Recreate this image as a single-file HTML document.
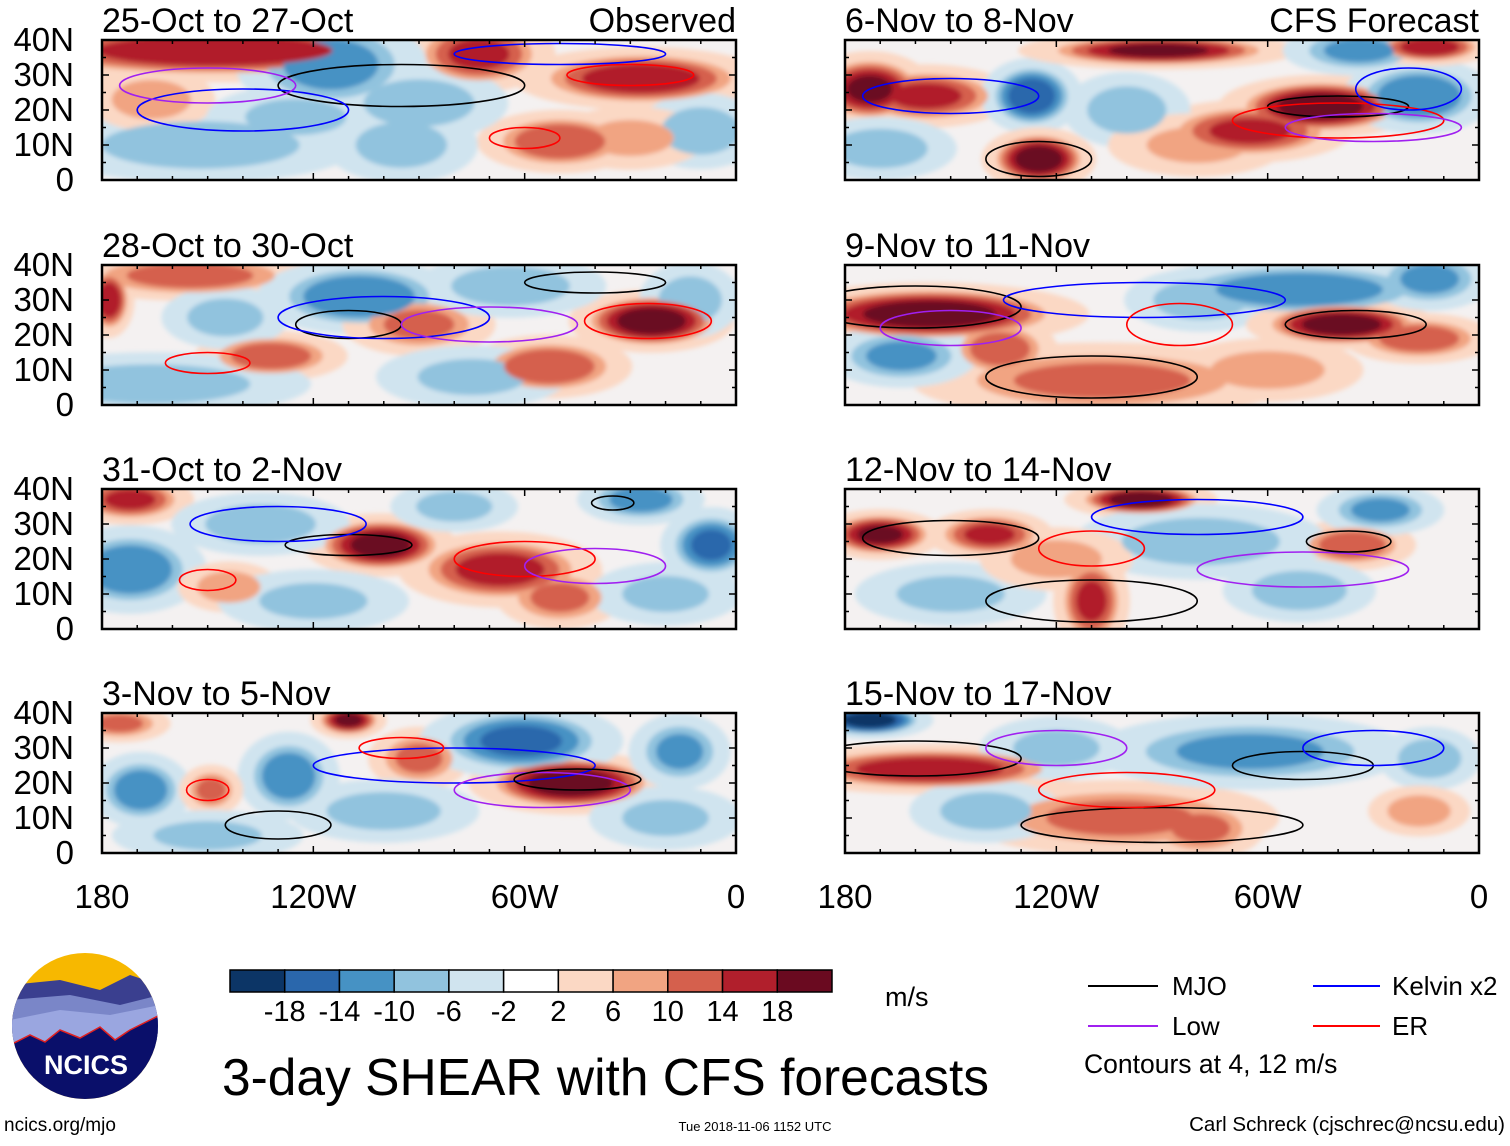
<!DOCTYPE html>
<html><head><meta charset="utf-8"><style>
html,body{margin:0;padding:0;background:#fff;}
body{width:1510px;height:1141px;overflow:hidden;font-family:"Liberation Sans",Arial,sans-serif;}
svg text{font-family:"Liberation Sans",Arial,sans-serif;}
</style></head><body>
<svg id="root" width="1510" height="1141" viewBox="0 0 1510 1141" xmlns="http://www.w3.org/2000/svg">
<defs>
<filter id="soft" x="-20%" y="-20%" width="140%" height="140%"><feGaussianBlur stdDeviation="2.5"/></filter>
<clipPath id="logoClip"><circle cx="85" cy="1026" r="73"/></clipPath>
</defs>
<g id="panels"></g>

<g id="cbar"></g>
<text x="885" y="1006" font-size="27">m/s</text>

<text x="222" y="1095" font-size="51.5">3-day SHEAR with CFS forecasts</text>

<g>
<line x1="1088" y1="986" x2="1158" y2="986" stroke="#000" stroke-width="2"/>
<text x="1172" y="995" font-size="26">MJO</text>
<line x1="1313" y1="986" x2="1380" y2="986" stroke="#0000ff" stroke-width="2"/>
<text x="1392" y="995" font-size="26">Kelvin x2</text>
<line x1="1088" y1="1026" x2="1158" y2="1026" stroke="#a020f0" stroke-width="2"/>
<text x="1172" y="1035" font-size="26">Low</text>
<line x1="1313" y1="1026" x2="1380" y2="1026" stroke="#ff0000" stroke-width="2"/>
<text x="1392" y="1035" font-size="26">ER</text>
<text x="1084" y="1073" font-size="26.5">Contours at 4, 12 m/s</text>
</g>

<g>
<g clip-path="url(#logoClip)">
<rect x="10" y="950" width="150" height="155" fill="#f7b800"/>
<polygon points="10,985 60,980 100,990 130,975 160,985 160,1040 10,1040" fill="#3a3f8f"/>
<polygon points="10,1000 70,995 120,1005 160,995 160,1040 10,1040" fill="#7a86c8"/>
<polygon points="10,1020 60,1010 110,1015 160,1005 160,1050 10,1050" fill="#9aa6e0"/>
<polygon points="10,1045 30,1035 45,1042 60,1030 80,1038 100,1027 115,1040 130,1030 160,1015 160,1105 10,1105" fill="#0a0f6a" stroke="#e02020" stroke-width="1.5"/>
</g>
<text x="86" y="1074" font-size="27" font-weight="bold" fill="#fff" text-anchor="middle">NCICS</text>
</g>

<text x="4" y="1131" font-size="19">ncics.org/mjo</text>
<text x="755" y="1131" font-size="13" text-anchor="middle">Tue 2018-11-06 1152 UTC</text>
<text x="1505" y="1131" font-size="20.5" text-anchor="end">Carl Schreck (cjschrec@ncsu.edu)</text>
</svg>
<script>
const cbLevels = [-18,-14,-10,-6,-2,2,6,10,14,18];
const cbColors = ["#0c3566","#2a67ac","#4692c4","#91c3de","#d0e4ef","#ffffff","#fbd8c4","#f1a482","#d5604d","#b11f2c","#6a0a20"];
const panelTitles = ["25-Oct to 27-Oct","28-Oct to 30-Oct","31-Oct to 2-Nov","3-Nov to 5-Nov","6-Nov to 8-Nov","9-Nov to 11-Nov","12-Nov to 14-Nov","15-Nov to 17-Nov"];
const latTicks = [40,30,20,10,0];
const latLabels = ["40N","30N","20N","10N","0"];
const lonTicks = [180,120,60,0];
const lonLabels = ["180","120W","60W","0"];
// shear anomaly blobs per panel: [lonW, lat, value m/s, rxDeg, ryDeg]
const blobs0 = [[148,37,15,38,5],[73,36,12,12,6],[27,29,14,20,5],[50,11,11,13,5],[115,33,-9,15,8],[90,22,-6,14,6],[152,10,-6,25,6],[166,23,6,10,5],[10,14,-6,10,6],[95,10,-5,12,6],[125,18,-4,14,5],[30,12,4,12,5]];
const blobs1 = [[178,30,14,4,6],[155,37,9,20,4],[107,31,-11,16,6],[132,14,10,12,4],[90,23,8,12,5],[24,24,18,13,5],[53,11,11,13,5],[64,34,-6,15,5],[166,6,-6,25,5],[13,30,-6,8,6],[145,25,-5,10,5],[75,8,-4,15,5]];
const blobs2 = [[172,37,12,10,4],[101,24,17,12,5],[67,17,13,16,6],[50,9,8,10,5],[172,17,-11,12,7],[27,37,-9,10,4],[7,24,-12,8,6],[135,30,-6,14,5],[144,12,6,8,4],[80,35,-5,10,4],[120,8,-4,15,5],[20,10,-4,12,5]];
const blobs3 = [[110,38,16,6,3],[90,27,8,8,5],[47,20,18,16,5],[127,22,-10,8,7],[169,18,-10,8,6],[61,32,-12,16,6],[16,29,-8,8,6],[149,18,8,5,4],[175,37,8,8,3],[100,12,-5,15,5],[150,5,-4,15,4],[20,10,-4,12,5]];
const blobs4 = [[173,26,16,10,6],[157,24,12,14,5],[127,24,-14,8,6],[91,37,16,22,3],[125,6,18,9,5],[45,21,18,16,5],[65,14,12,16,5],[17,24,-11,12,6],[34,37,-8,12,4],[170,9,-6,12,5],[14,38,14,10,3],[100,20,-6,10,6],[80,10,4,14,5]];
const blobs5 = [[156,26,18,25,5],[136,16,10,9,5],[79,30,-6,12,5],[51,33,-10,25,5],[39,23,18,15,4],[107,7,8,30,6],[17,19,10,12,4],[164,14,-8,12,5],[14,36,-8,10,5],[60,10,5,15,5]];
const blobs6 = [[170,27,16,10,4],[139,27,12,10,4],[96,37,18,12,3],[110,8,12,6,8],[36,24,10,10,4],[79,25,-6,20,6],[28,34,-8,10,4],[51,11,-6,12,5],[150,10,-4,15,5],[120,20,5,12,5]];
const blobs7 = [[173,38,-18,10,3],[156,24,14,25,4],[102,10,8,25,6],[65,29,-8,25,6],[79,7,8,10,5],[14,27,-6,8,5],[17,12,6,8,4],[140,12,-5,12,5],[120,30,-4,12,5]];
const panelBlobs = [blobs0,blobs1,blobs2,blobs3,blobs4,blobs5,blobs6,blobs7];
// contours per panel: [type, lonW, lat, rxDeg, ryDeg]
const cont0 = [["mjo",95,27,35,6],["kelvin",140,20,30,6],["low",150,27,25,5],["er",60,12,10,3],["er",30,30,18,3],["kelvin",50,36,30,3]];
const cont1 = [["mjo",110,23,15,4],["mjo",40,35,20,3],["kelvin",100,25,30,6],["er",25,24,18,5],["low",70,23,25,5],["er",150,12,12,3]];
const cont2 = [["mjo",110,24,18,3],["kelvin",130,30,25,5],["er",60,20,20,5],["low",40,18,20,5],["er",150,14,8,3],["mjo",35,36,6,2]];
const cont3 = [["mjo",130,8,15,4],["kelvin",80,25,40,5],["er",95,30,12,3],["low",55,18,25,5],["mjo",45,21,18,3],["er",150,18,6,3]];
const cont4 = [["mjo",40,21,20,3],["mjo",125,6,15,5],["kelvin",150,24,25,5],["er",40,17,30,5],["low",30,15,25,4],["kelvin",20,26,15,6]];
const cont5 = [["mjo",160,28,30,6],["mjo",110,8,30,6],["mjo",35,23,20,4],["kelvin",95,30,40,5],["er",85,23,15,6],["low",150,22,20,5]];
const cont6 = [["mjo",150,26,25,5],["mjo",110,8,30,6],["er",110,23,15,5],["low",50,17,30,5],["mjo",37,25,12,3],["kelvin",80,32,30,5]];
const cont7 = [["mjo",160,27,30,5],["mjo",90,8,40,5],["er",100,18,25,5],["low",120,30,20,5],["mjo",50,25,20,4],["kelvin",30,30,20,5]];
const panelConts = [cont0,cont1,cont2,cont3,cont4,cont5,cont6,cont7];

const NS="http://www.w3.org/2000/svg";
const PW=634, PH=140;
const colX=[102,845], rowY=[40,265,489,713];
const contColor={mjo:"#000",kelvin:"#0000ff",low:"#a020f0",er:"#ff0000"};
function mk(tag,attrs,parent){const e=document.createElementNS(NS,tag);for(const k in attrs)e.setAttribute(k,attrs[k]);parent.appendChild(e);return e;}
function colorFor(v){let i=0;while(i<cbLevels.length&&v>=cbLevels[i])i++;return cbColors[i];}

const panelsG=document.getElementById('panels');
const defs=document.querySelector('defs');
for(let p=0;p<8;p++){
  const x0=colX[p<4?0:1], y0=rowY[p%4];
  const xS=lon=>x0+(180-lon)/180*PW;
  const yS=lat=>y0+(40-lat)/40*PH;
  const sx=PW/180*1.45, sy=PH/40*1.45;
  const cp=mk('clipPath',{id:'pc'+p},defs);
  mk('rect',{x:x0,y:y0,width:PW,height:PH},cp);
  const g=mk('g',{'clip-path':'url(#pc'+p+')'},panelsG);
  
  
  mk('rect',{x:x0,y:y0,width:PW,height:PH,fill:"#f4f1f1"},g);
  const fg=mk('g',{filter:'url(#soft)'},g);
  const bl=panelBlobs[p];
  const pos=[2,6,10,14,18];
  // draw all level-2 rings first, then higher levels so layering is consistent
  pos.forEach(L=>{
    bl.forEach(b=>{
      const [lon,lat,v,rx,ry]=b; const av=Math.abs(v)+2, sg=v<0?-1:1;
      if(av<L)return;
      const f=Math.sqrt(1-(L-2)/(av+2))*(L===2?1.25:1);
      const e=mk('ellipse',{cx:xS(lon),cy:yS(lat),rx:rx*sx*f,ry:ry*sy*f,fill:colorFor(sg*(L+0.5))},fg);
      
      
    });
  });
  panelConts[p].forEach(c=>{
    const [t,lon,lat,rx,ry]=c;
    const e=mk('ellipse',{cx:xS(lon),cy:yS(lat),rx:rx*PW/180,ry:ry*PH/40,fill:'none',stroke:contColor[t],'stroke-width':1.6},g);
    
    
  });
  const br=mk('rect',{x:x0,y:y0,width:PW,height:PH,fill:'none',stroke:'#000','stroke-width':2.5},panelsG);
  
  
  for(let lon=180;lon>=0;lon-=10){
    const len=(lon%60===0)?7:4;
    mk('line',{x1:xS(lon),y1:y0,x2:xS(lon),y2:y0+len,stroke:'#000','stroke-width':1.5},panelsG);
    mk('line',{x1:xS(lon),y1:y0+PH,x2:xS(lon),y2:y0+PH-len,stroke:'#000','stroke-width':1.5},panelsG);
  }
  for(let lat=0;lat<=40;lat+=5){
    const len=(lat%10===0)?7:4;
    mk('line',{x1:x0,y1:yS(lat),x2:x0+len,y2:yS(lat),stroke:'#000','stroke-width':1.5},panelsG);
    mk('line',{x1:x0+PW,y1:yS(lat),x2:x0+PW-len,y2:yS(lat),stroke:'#000','stroke-width':1.5},panelsG);
  }
  const t=mk('text',{x:x0,y:y0-8,'font-size':34},panelsG);
  t.textContent=panelTitles[p];
  
  
  if(p%4===0){
    const r=mk('text',{x:x0+PW,y:y0-8,'font-size':34,'text-anchor':'end'},panelsG);
    r.textContent=p===0?"Observed":"CFS Forecast";
    
    
  }
  if(p<4){
    latTicks.forEach((lat,i)=>{
      const l=mk('text',{x:74,y:yS(lat)+11,'font-size':33,'text-anchor':'end'},panelsG);
      l.textContent=latLabels[i];
      
      
    });
  }
  if(p%4===3){
    lonTicks.forEach((lon,i)=>{
      const l=mk('text',{x:xS(lon),y:908,'font-size':33,'text-anchor':'middle'},panelsG);
      l.textContent=lonLabels[i];
      
      
    });
  }
}
const cb=document.getElementById('cbar');
const cbx0=230, cbw=602/cbColors.length;
cbColors.forEach((c,i)=>{
  const r=mk('rect',{x:cbx0+i*cbw,y:970,width:cbw,height:22,fill:c,stroke:'#000','stroke-width':1.5},cb);
  
  
});
cbLevels.forEach((v,i)=>{
  const t=mk('text',{x:cbx0+(i+1)*cbw,y:1021,'font-size':29,'text-anchor':'middle'},cb);
  t.textContent=String(v);
  
  
});
</script>
</body></html>
